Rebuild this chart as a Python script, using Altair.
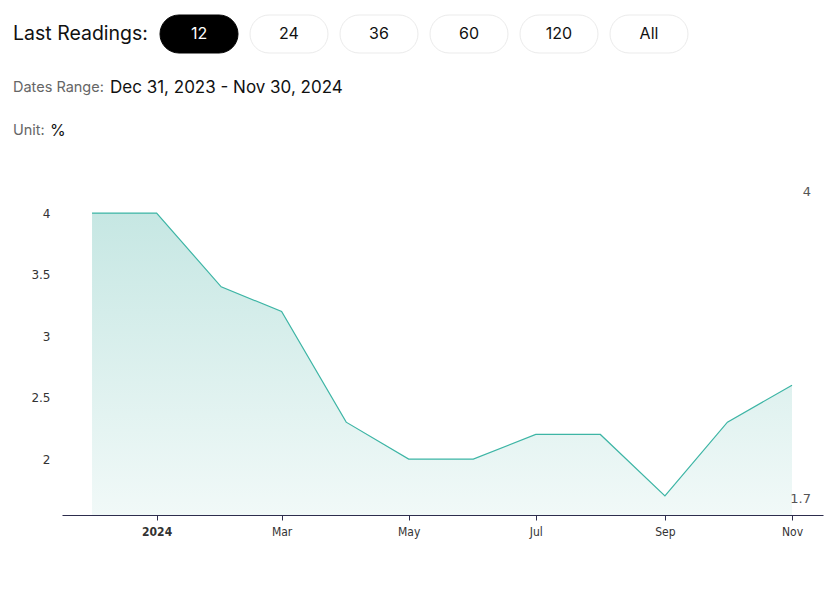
import altair as alt
import pandas as pd

# ---- data ----
dates = ["2023-12-01", "2024-01-01", "2024-02-01", "2024-03-01", "2024-04-01", "2024-05-01",
         "2024-06-01", "2024-07-01", "2024-08-01", "2024-09-01", "2024-10-01", "2024-11-01"]
values = [4.0, 4.0, 3.4, 3.2, 2.3, 2.0, 2.0, 2.2, 2.2, 1.7, 2.3, 2.6]
y_ticks = [2, 2.5, 3, 3.5, 4]
buttons = ["12", "24", "36", "60", "120", "All"]
selected_button = "12"
header_label = "Last Readings:"
range_label = "Dates Range:"
range_text = "Dec 31, 2023 - Nov 30, 2024"
unit_label = "Unit:"
unit_text = "%"

df = pd.DataFrame({"date": [d + "T00:00:00" for d in dates], "value": values})

# ---- layout ----
PAD_L, PAD_T, PAD_R, PAD_B = 62, 194, 10, 78
W, H = 833 - PAD_L - PAD_R, 593 - PAD_T - PAD_B
Y_MIN, Y_MAX = 1.545, 4.155
LINE = "#3db5a5"
FONT = "Inter"
AX_FONT = "DejaVu Sans Condensed, Liberation Sans Narrow, DejaVu Sans, sans-serif"

x_scale = alt.Scale(domain=[alt.DateTime(year=2023, month=11, date=16, hours=14),
                            alt.DateTime(year=2024, month=11, date=15, hours=21)])
y_scale = alt.Scale(domain=[Y_MIN, Y_MAX], zero=False, nice=False)

tick_vals = [alt.DateTime(year=2024, month=m, date=1) for m in [1, 3, 5, 7, 9, 11]]

base = alt.Chart(df)

area = base.mark_area(
    color=alt.Gradient(gradient="linear",
                       stops=[alt.GradientStop(color="#c6e7e3", offset=0),
                              alt.GradientStop(color="#f1f9f8", offset=1)],
                       x1=1, x2=1, y1=0, y2=1)
).encode(
    x=alt.X("date:T", scale=x_scale,
            axis=alt.Axis(title=None, values=tick_vals, grid=False,
                          labelExpr="month(datum.value) == 0 ? timeFormat(datum.value, '%Y') : timeFormat(datum.value, '%b')",
                          labelFontWeight=alt.ExprRef("month(datum.value) == 0 ? 'bold' : 'normal'"),
                          labelFont=AX_FONT, labelFontSize=12, labelColor="#333333",
                          domainColor="#2d2d4d", domainWidth=1.2, tickColor="#2d2d4d",
                          tickSize=5, labelPadding=6)),
    y=alt.Y("value:Q", scale=y_scale,
            axis=alt.Axis(title=None, values=y_ticks, format="~g", domain=False, ticks=False,
                          grid=False, labelFont="DejaVu Sans", labelFontSize=12,
                          labelColor="#333333", labelPadding=12)),
    y2=alt.datum(Y_MIN),
)

line = base.mark_line(color=LINE, strokeWidth=1.2).encode(x="date:T", y="value:Q")

max_df = pd.DataFrame({"v": [max(values)], "t": [f"{max(values):g}"]})
min_df = pd.DataFrame({"v": [min(values)], "t": [f"{min(values):g}"]})
max_txt = alt.Chart(max_df).mark_text(align="right", baseline="middle", dy=-21, font="DejaVu Sans",
                                      fontSize=13, color="#555555").encode(
    x=alt.value(W - 12), y=alt.Y("v:Q"), text="t:N")
min_txt = alt.Chart(min_df).mark_text(align="right", baseline="middle", dy=3, font="DejaVu Sans",
                                      fontSize=13, color="#555555").encode(
    x=alt.value(W - 12), y=alt.Y("v:Q"), text="t:N")

one = pd.DataFrame({"a": [0]})
layers = [area, line, max_txt, min_txt]


def txt(s, x, y, size, color, weight="normal"):
    return alt.Chart(one).mark_text(align="left", baseline="middle", font=FONT, fontSize=size,
                                    color=color, fontWeight=weight, text=s).encode(
        x=alt.value(x - PAD_L), y=alt.value(y - PAD_T))


layers.append(txt(header_label, 13, 34, 19.5, "#111111"))
for i, b in enumerate(buttons):
    x0 = 160 + 90 * i
    sel = b == selected_button
    rect = alt.Chart(one).mark_rect(cornerRadius=19, fill="#000000" if sel else "#ffffff",
                                    stroke="#000000" if sel else "#ebebeb", strokeWidth=1).encode(
        x=alt.value(x0 - PAD_L), x2=alt.value(x0 + 78 - PAD_L),
        y=alt.value(15 - PAD_T), y2=alt.value(53 - PAD_T))
    t = alt.Chart(one).mark_text(align="center", baseline="middle", font=FONT, fontSize=16,
                                 color="#ffffff" if sel else "#111111", text=b).encode(
        x=alt.value(x0 + 39 - PAD_L), y=alt.value(34 - PAD_T))
    layers += [rect, t]

layers.append(txt(range_label, 13, 88, 14.5, "#666666"))
layers.append(txt(range_text, 110, 88, 17, "#111111"))
layers.append(txt(unit_label, 13, 131, 14.5, "#666666"))
layers.append(txt(unit_text, 50, 131, 16, "#111111"))

chart = alt.layer(*layers).properties(
    width=W, height=H,
    autosize=alt.AutoSizeParams(type="none"),
    padding={"left": PAD_L, "top": PAD_T, "right": PAD_R, "bottom": PAD_B},
    background="#ffffff",
).configure_view(stroke=None)

chart.save("out.html", embed_options={"renderer": "svg", "actions": False})
